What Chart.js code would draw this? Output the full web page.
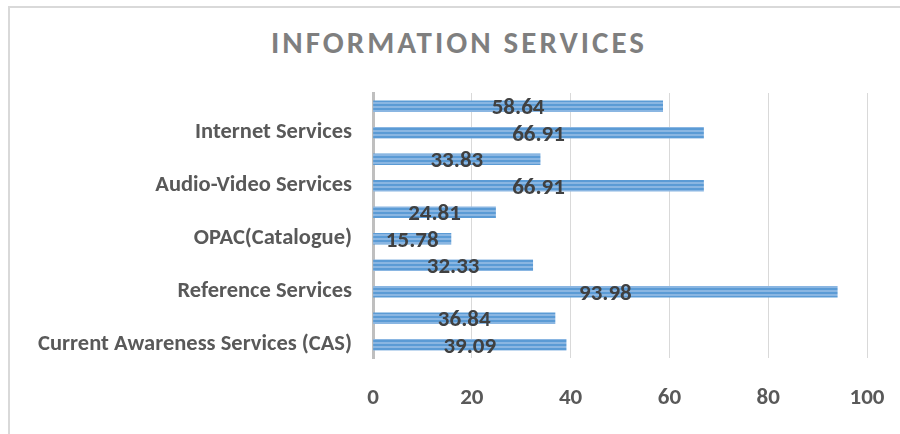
<!DOCTYPE html>
<html>
<head>
<meta charset="utf-8">
<script src="https://cdn.jsdelivr.net/npm/chart.js@4"></script>
<style>
  html, body { margin: 0; padding: 0; background: #ffffff; overflow: hidden; }
  #wrap { position: relative; width: 900px; height: 434px; overflow: hidden; }
  #frame { position: absolute; left: 8px; top: 6px; width: 1000px; height: 1000px; border: 2px solid #d9d9d9; box-sizing: border-box; }
  #title { position: absolute; left: 0; top: 27px; width: 900px; box-sizing: border-box; padding-left: 18px; text-align: center;
           font-family: Carlito, 'Liberation Sans', Arial, sans-serif; font-weight: bold; font-size: 31px;
           line-height: 31px; letter-spacing: 3px; color: #7f7f7f; white-space: nowrap; }
  canvas { position: absolute; left: 0; top: 0; }
</style>
</head>
<body>
<div id="wrap">
  <div id="frame"></div>
  <div id="title">INFORMATION SERVICES</div>
  <canvas id="c" width="900" height="434"></canvas>
</div>
<script>
// Categories listed bottom to top (Excel order); unlabeled bars are categories whose labels were skipped.
const categories = [
  'Current Awareness Services (CAS)', '',
  'Reference Services', '',
  'OPAC(Catalogue)', '',
  'Audio-Video Services', '',
  'Internet Services', ''
];
const values = [39.09, 36.84, 93.98, 32.33, 15.78, 24.81, 66.91, 33.83, 66.91, 58.64];
const xTicks = [0, 20, 40, 60, 80, 100];

const FONT = "Carlito, 'Liberation Sans', Arial, sans-serif";

function stripePattern(ctx) {
  const p = document.createElement('canvas');
  p.width = 4; p.height = 4;
  const pc = p.getContext('2d');
  pc.fillStyle = '#5b9bd5'; pc.fillRect(0, 0, 4, 2);
  pc.fillStyle = '#8ab6e2'; pc.fillRect(0, 2, 4, 2);
  return ctx.createPattern(p, 'repeat');
}

const valueLabels = {
  id: 'valueLabels',
  afterDatasetsDraw(chart) {
    const ctx = chart.ctx;
    const meta = chart.getDatasetMeta(0);
    ctx.save();
    ctx.font = 'bold 23px ' + FONT;
    ctx.fillStyle = '#404040';
    ctx.textAlign = 'center';
    ctx.textBaseline = 'middle';
    meta.data.forEach((bar, i) => {
      const v = chart.data.datasets[0].data[i];
      const cx = (bar.x + bar.base) / 2;
      ctx.fillText(v.toFixed(2), cx, bar.y + 2);
    });
    ctx.restore();
  }
};

const ctx = document.getElementById('c').getContext('2d');
new Chart(ctx, {
  type: 'bar',
  data: {
    labels: categories,
    datasets: [{
      data: values,
      backgroundColor: stripePattern(ctx),
      borderWidth: 0,
      barThickness: 11
    }]
  },
  options: {
    indexAxis: 'y',
    responsive: false,
    animation: false,
    layout: { padding: { top: 93, right: 33, left: 0, bottom: 0 } },
    plugins: { legend: { display: false }, tooltip: { enabled: false }, title: { display: false } },
    scales: {
      x: {
        min: 0, max: 100,
        afterBuildTicks(scale) { scale.ticks = xTicks.map(v => ({ value: v })); },
        grid: { color: '#d9d9d9', lineWidth: 1, drawTicks: false },
        border: { display: false },
        ticks: { color: '#595959', font: { family: FONT, size: 23, weight: 'bold' }, padding: 26 },
        afterFit(scale) { scale.height = 76; scale.paddingLeft = 0; scale.paddingRight = 0; }
      },
      y: {
        reverse: true,
        grid: { display: false, drawTicks: false },
        border: { display: true, color: '#bfbfbf', width: 3 },
        ticks: { autoSkip: false, color: '#595959', font: { family: FONT, size: 22.5, weight: 'bold' }, padding: 21 },
        afterFit(scale) { scale.width = 373; }
      }
    }
  },
  plugins: [valueLabels]
});
</script>
</body>
</html>
